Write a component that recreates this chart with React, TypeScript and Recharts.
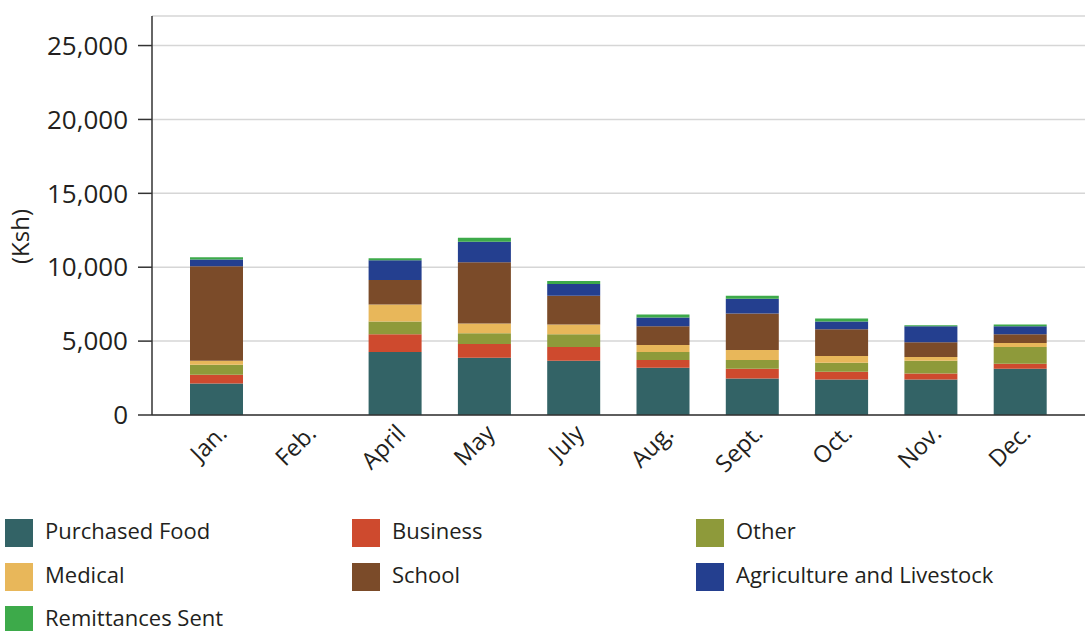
import React from "react";
import { BarChart, Bar, XAxis, YAxis, CartesianGrid } from "recharts";

const months = ["Jan.", "Feb.", "April", "May", "July", "Aug.", "Sept.", "Oct.", "Nov.", "Dec."];
const purchasedFood = [2130, 0, 4270, 3870, 3670, 3200, 2470, 2400, 2400, 3130];
const business = [600, 0, 1200, 930, 930, 530, 660, 530, 400, 340];
const other = [670, 0, 860, 730, 870, 540, 600, 600, 870, 1130];
const medical = [270, 0, 1140, 670, 660, 460, 670, 470, 260, 270];
const school = [6400, 0, 1660, 4130, 1940, 1270, 2470, 1800, 1000, 600];
const agriculture = [460, 0, 1340, 1400, 800, 600, 1000, 530, 1070, 530];
const remittances = [140, 0, 130, 270, 200, 200, 200, 200, 70, 130];
const yTicks = [0, 5000, 10000, 15000, 20000, 25000];

const series = [
  { key: "food", name: "Purchased Food", color: "#336366", values: purchasedFood },
  { key: "business", name: "Business", color: "#CE4A2E", values: business },
  { key: "other", name: "Other", color: "#8E9A3A", values: other },
  { key: "medical", name: "Medical", color: "#E8B75A", values: medical },
  { key: "school", name: "School", color: "#7B4B29", values: school },
  { key: "agri", name: "Agriculture and Livestock", color: "#243F8F", values: agriculture },
  { key: "remit", name: "Remittances Sent", color: "#3DAA4A", values: remittances },
];

const legendOrder = ["food", "business", "other", "medical", "school", "agri", "remit"];

const data = months.map((m, i) => {
  const row: any = { month: m };
  series.forEach((s) => {
    row[s.key] = s.values[i];
  });
  return row;
});

const FONT = "'Open Sans', sans-serif";
const TEXT = "#231f20";
const AXIS = "#333333";

const fmt = (v: number) => v.toLocaleString("en-US");

export default function App() {
  const colX = [5, 352, 696];
  const rowY = [519, 563, 606];
  return (
    <div style={{ position: "absolute", left: 0, top: 0, width: 1086, height: 631, background: "#fff", fontFamily: FONT, overflow: "hidden" }}>
      <BarChart
        width={1086}
        height={500}
        data={data}
        margin={{ top: 16, right: 1, left: 12, bottom: 0 }}
        barSize={53}
      >
        <CartesianGrid vertical={false} stroke="#d6d6d6" strokeWidth={1.5} />
        <XAxis
          dataKey="month"
          height={85}
          padding={{ left: 20, right: 20 }}
          tickLine={false}
          axisLine={{ stroke: AXIS, strokeWidth: 1.5 }}
          interval={0}
          angle={-45}
          textAnchor="end"
          tick={{ fill: TEXT, fontSize: 23.5, fontFamily: FONT }}
        />
        <YAxis
          width={140}
          domain={[0, 27000]}
          ticks={yTicks}
          tickFormatter={fmt}
          tickSize={14}
          tickMargin={10}
          tickLine={{ stroke: AXIS, strokeWidth: 1.5 }}
          axisLine={{ stroke: AXIS, strokeWidth: 1.5 }}
          tick={{ fill: TEXT, fontSize: 26, fontFamily: FONT }}
          label={{
            content: (props: any) => {
              const vb = props.viewBox;
              const x = vb.x + 7;
              const y = vb.y + vb.height / 2 + 21;
              return (
                <text
                  x={x}
                  y={y}
                  transform={`rotate(-90, ${x}, ${y})`}
                  textAnchor="middle"
                  dominantBaseline="central"
                  fill={TEXT}
                  fontSize={24}
                  fontFamily={FONT}
                >
                  (Ksh)
                </text>
              );
            },
          }}
        />
        {series.map((s) => (
          <Bar key={s.key} dataKey={s.key} name={s.name} stackId="a" fill={s.color} isAnimationActive={false} />
        ))}
      </BarChart>
      {legendOrder.map((k, i) => {
        const s = series.find((q) => q.key === k)!;
        const x = colX[i % 3];
        const y = rowY[Math.floor(i / 3)];
        return (
          <div key={k} style={{ position: "absolute", left: x, top: y, height: 28, display: "flex", alignItems: "center", whiteSpace: "nowrap" }}>
            <div style={{ width: 28, height: 28, background: s.color, flex: "none" }} />
            <span style={{ marginLeft: 12, fontSize: 22, lineHeight: "28px", color: TEXT, fontFamily: FONT, position: "relative", top: -3 }}>{s.name}</span>
          </div>
        );
      })}
    </div>
  );
}
